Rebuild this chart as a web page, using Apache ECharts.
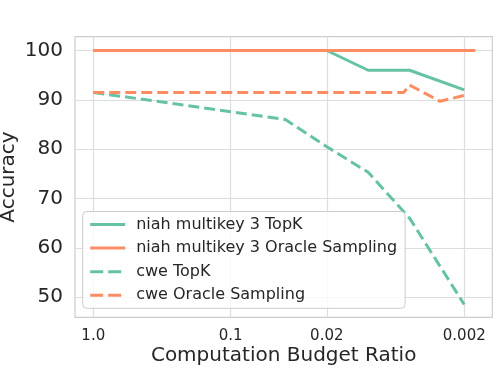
<!DOCTYPE html>
<html>
<head>
<meta charset="utf-8">
<script src="https://cdn.jsdelivr.net/npm/echarts@6/dist/echarts.min.js"></script>
<style>
  html, body { margin: 0; padding: 0; background: #fff; }
  #chart { width: 498px; height: 374px; }
</style>
</head>
<body>
<div id="chart"></div>
<script>
// budget ratios (x) and accuracy (y)
const niahTopkX = [1.0, 0.1, 0.04, 0.02, 0.01, 0.005, 0.002]
const niahTopkY = [100, 100, 100, 100, 96, 96, 92]

const niahOracleX = [1.0, 0.1, 0.04, 0.02, 0.01, 0.005, 0.002, 0.00166]
const niahOracleY = [100, 100, 100, 100, 100, 100, 100, 100]

const cweTopkX = [1.0, 0.1, 0.04, 0.02, 0.01, 0.005, 0.002]
const cweTopkY = [91.5, 87.6, 86, 80.5, 75.3, 66, 48.5]

const cweOracleX = [1.0, 0.1, 0.04, 0.02, 0.01, 0.0055, 0.005, 0.003, 0.002]
const cweOracleY = [91.5, 91.5, 91.5, 91.5, 91.5, 91.5, 93, 89.7, 90.9]

const xTickRatios = [1.0, 0.1, 0.02, 0.002]
const xTickLabels = ['1.0', '0.1', '0.02', '0.002']
const yTicks = [50, 60, 70, 80, 90, 100]

const GREEN = '#66c2a5'
const ORANGE = '#fc8d62'
const FONT = 'DejaVu Sans'
const DASH = [11, 5]

// reversed log axis: plot -log10(ratio) on a value axis
const toX = r => -Math.log10(r)
const pairs = (xs, ys) => xs.map((x, i) => [toX(x), ys[i]])
const xTickPos = xTickRatios.map(toX)

function labelFor(v) {
  for (let i = 0; i < xTickPos.length; i++) {
    if (Math.abs(xTickPos[i] - v) < 1e-6) return xTickLabels[i]
  }
  return ''
}

function line(name, xs, ys, color, dashed) {
  return {
    name: name,
    type: 'line',
    data: pairs(xs, ys),
    symbol: 'none',
    lineStyle: { color: color, width: 3, type: dashed ? DASH : 'solid', cap: 'butt' },
    itemStyle: { color: color },
    animation: false
  }
}

function legendItem(name, color, dashed) {
  return {
    name: name,
    itemStyle: { opacity: 0 },
    lineStyle: { color: color, width: 3, type: dashed ? [13, 5] : 'solid', opacity: 1 }
  }
}

let chart = echarts.init(document.getElementById('chart'), null, { renderer: 'canvas' })

const option = {
  backgroundColor: '#fff',
  textStyle: { fontFamily: FONT },
  grid: {
    left: 75, right: 5.7, top: 36.7, bottom: 56.7,
    outerBoundsMode: 'none',
    containLabel: false,
    show: true, borderColor: '#cccccc', borderWidth: 1.2, backgroundColor: '#fff'
  },
  legend: {
    orient: 'vertical',
    left: 82.7,
    top: 211.5,
    padding: [5, 8, 5, 6],
    itemWidth: 35,
    itemHeight: 16,
    itemGap: 7.6,
    backgroundColor: 'rgba(255,255,255,0.8)',
    borderColor: '#cccccc',
    borderWidth: 1,
    borderRadius: 4,
    textStyle: { fontFamily: FONT, fontSize: 16, color: '#262626', padding: [0, 0, 0, 6], lineHeight: 16 },
    data: [
      legendItem('niah multikey 3 TopK', GREEN, false),
      legendItem('niah multikey 3 Oracle Sampling', ORANGE, false),
      legendItem('cwe TopK', GREEN, true),
      legendItem('cwe Oracle Sampling', ORANGE, true)
    ]
  },
  xAxis: {
    type: 'value',
    min: -0.133,
    max: 2.903,
    name: 'Computation Budget Ratio',
    nameLocation: 'middle',
    nameMoveOverlap: false,
    nameGap: 28,
    nameTextStyle: { fontFamily: FONT, fontSize: 20, color: '#262626' },
    axisLine: { show: false },
    axisTick: { show: false, customValues: xTickPos },
    axisLabel: {
      customValues: xTickPos,
      formatter: labelFor,
      fontFamily: FONT, fontSize: 15, color: '#262626', margin: 11
    },
    splitLine: { show: true, lineStyle: { color: '#dddddd', width: 1.2 } }
  },
  yAxis: {
    type: 'value',
    min: 45.9,
    max: 102.8,
    name: 'Accuracy',
    nameLocation: 'middle',
    nameMoveOverlap: false,
    nameGap: 56,
    nameTextStyle: { fontFamily: FONT, fontSize: 20, color: '#262626' },
    axisLine: { show: false },
    axisTick: { show: false, customValues: yTicks },
    axisLabel: {
      customValues: yTicks,
      fontFamily: FONT, fontSize: 20, color: '#262626', margin: 12
    },
    splitLine: { show: true, lineStyle: { color: '#dddddd', width: 1.2 } }
  },
  series: [
    line('niah multikey 3 TopK', niahTopkX, niahTopkY, GREEN, false),
    line('niah multikey 3 Oracle Sampling', niahOracleX, niahOracleY, ORANGE, false),
    line('cwe TopK', cweTopkX, cweTopkY, GREEN, true),
    line('cwe Oracle Sampling', cweOracleX, cweOracleY, ORANGE, true)
  ]
}

chart.setOption(option)
</script>
</body>
</html>
